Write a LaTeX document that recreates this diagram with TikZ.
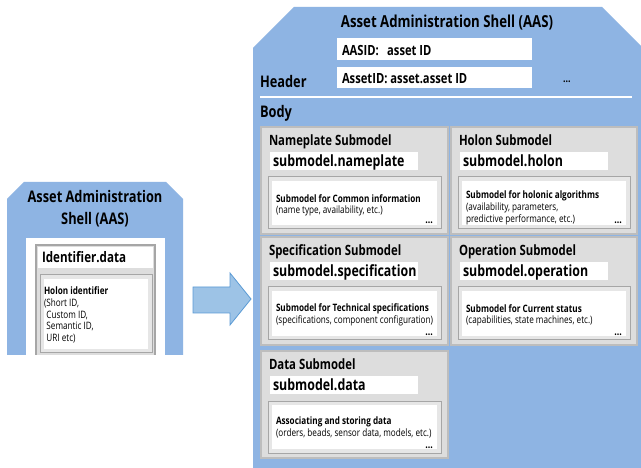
\documentclass[tikz,border=0pt]{standalone}
\usepackage{fontspec}
\setmainfont{Open Sans}[FakeStretch=0.8]
\definecolor{shellblue}{HTML}{8EB4E3}
\definecolor{smfill}{HTML}{DDDDDD}
\definecolor{smline}{HTML}{BDBDBD}
\definecolor{inline}{HTML}{A6A6A6}
\definecolor{inband}{HTML}{E6E6E6}
\definecolor{arrowfill}{HTML}{9DC3E6}
\definecolor{arrowline}{HTML}{5B9BD5}

\tikzset{
  shell/.style={fill=shellblue, draw=none},
  txt/.style={inner sep=0pt, outer sep=0pt, text=black},
  bigtitle/.style={txt, font=\fontsize{16}{19}\selectfont\bfseries},
  headtxt/.style={txt, font=\fontsize{14}{16}\selectfont\bfseries},
  smtitle/.style={txt, font=\fontsize{14.2}{16}\selectfont\bfseries},
  smlabel/.style={txt, font=\fontsize{15.5}{17}\selectfont\bfseries},
  smtext/.style={txt, font=\fontsize{10.2}{11.6}\selectfont, align=left},
  dots/.style={txt, font=\fontsize{11}{12}\selectfont\bfseries},
  smbox/.style={fill=smfill, draw=smline, line width=1.2pt},
  inbox/.style={fill=inband, draw=inline, line width=1pt},
  blockarrow/.style={fill=arrowfill, draw=arrowline, line width=0.8pt},
}

% One submodel: id, x, y, width, height, title, label, description, text top offset
\newcommand\SubModel[9]{%
  \draw[smbox] (#2,#3) rectangle ++(#4,#5);
  \node[smtitle, anchor=base west] (#1-title) at (#2+8,#3+19) {#6};
  \fill[white] (#2+9,#3+25) rectangle ++(148,18);
  \node[smlabel, anchor=base west] (#1-label) at (#2+12,#3+40) {#7};
  \draw[inbox] (#2+7,#3+50) rectangle (#2+#4-7,#3+#5-5);
  \fill[white] (#2+11,#3+54) rectangle (#2+#4-11,#3+#5-9);
  \node[smtext, anchor=north west] (#1-text) at (#2+15,#3+#9) {#8};
  \node[dots, anchor=base east] (#1-dots) at (#2+#4-15,#3+#5-10) {...};
}

\begin{document}
\begin{tikzpicture}[x=1pt,y=-1pt]
\useasboundingbox (0,0) rectangle (641,468);
\fill[white] (0,0) rectangle (641,468);

% ---------- small shell on the left ----------
\fill[shell] (7,199) -- (24,182) -- (166,182) -- (183,199) -- (183,355) -- (7,355) -- cycle;
\fill[white] (26,238) rectangle (165,355);
\node[bigtitle, anchor=base] (ls-t1) at (95,203) {Asset Administration};
\node[bigtitle, anchor=base] (ls-t2) at (95,225) {Shell (AAS)};
\begin{scope}
  \clip (26,238) rectangle (165,355);
  \draw[smbox, draw=inline] (36,245) rectangle (155,358);
\end{scope}
\fill[white] (38,247) rectangle (153,268);
\node[txt, font=\fontsize{14.5}{17}\selectfont\bfseries, anchor=base west] (ls-id) at (42,263) {Identifier.data};
\draw[inbox] (40,275) rectangle (152,353);
\fill[white] (44,279) rectangle (148,349);
\node[smtext, anchor=north west] (ls-holon) at (44,287) {%
  \textbf{Holon identifier}\\
  (Short ID,\\
  \hspace*{2.5pt}Custom ID,\\
  \hspace*{2.5pt}Semantic ID,\\
  \hspace*{2.5pt}URI etc)};

% ---------- block arrow ----------
\draw[blockarrow] (193,287) -- (230,287) -- (230,273) -- (251,299) -- (230,325) -- (230,313) -- (193,313) -- cycle;

% ---------- large shell on the right ----------
\fill[shell] (253,48) -- (294,7) -- (602,7) -- (641,46) -- (641,468) -- (253,468) -- cycle;
\node[bigtitle, font=\fontsize{16.5}{19}\selectfont\bfseries, anchor=base] (rs-title) at (447,28) {Asset Administration Shell (AAS)};
\fill[white] (337,38) rectangle (532,60);
\node[headtxt, anchor=base west] (rs-aasid) at (342,56) {AASID:\hspace{0.6em}asset ID};
\fill[white] (337,67) rectangle (532,88);
\node[headtxt, anchor=base west] (rs-assetid) at (342,84) {AssetID: asset.asset ID};
\node[bigtitle, anchor=base west] (rs-header) at (260,88) {Header};
\node[dots, anchor=base west] (rs-dots) at (563,83) {...};
\draw[white, line width=2pt] (260,97) -- (632,97);
\node[bigtitle, anchor=base west] (rs-body) at (260,118) {Body};

\SubModel{np}{261}{127}{187}{107}{Nameplate Submodel}{submodel.nameplate}
  {\textbf{Submodel for Common information}\\(name type, availability, etc.)}{67.5}
\SubModel{ho}{451}{127}{186}{107}{Holon Submodel}{submodel.holon}
  {\textbf{Submodel for holonic algorithms}\\(availability, parameters,\\predictive performance, etc.)}{64}
\SubModel{sp}{261}{237}{187}{108}{Specification Submodel}{submodel.specification}
  {\textbf{Submodel for Technical specifications}\\(specifications, component configuration)}{67}
\SubModel{op}{451}{237}{186}{108}{Operation Submodel}{submodel.operation}
  {\textbf{Submodel for Current status}\\(capabilities, state machines, etc.)}{67.5}
\SubModel{da}{261}{351}{187}{107}{Data Submodel}{submodel.data}
  {\textbf{Associating and storing data}\\(orders, beads, sensor data, models, etc.)}{66}
\end{tikzpicture}
\end{document}
